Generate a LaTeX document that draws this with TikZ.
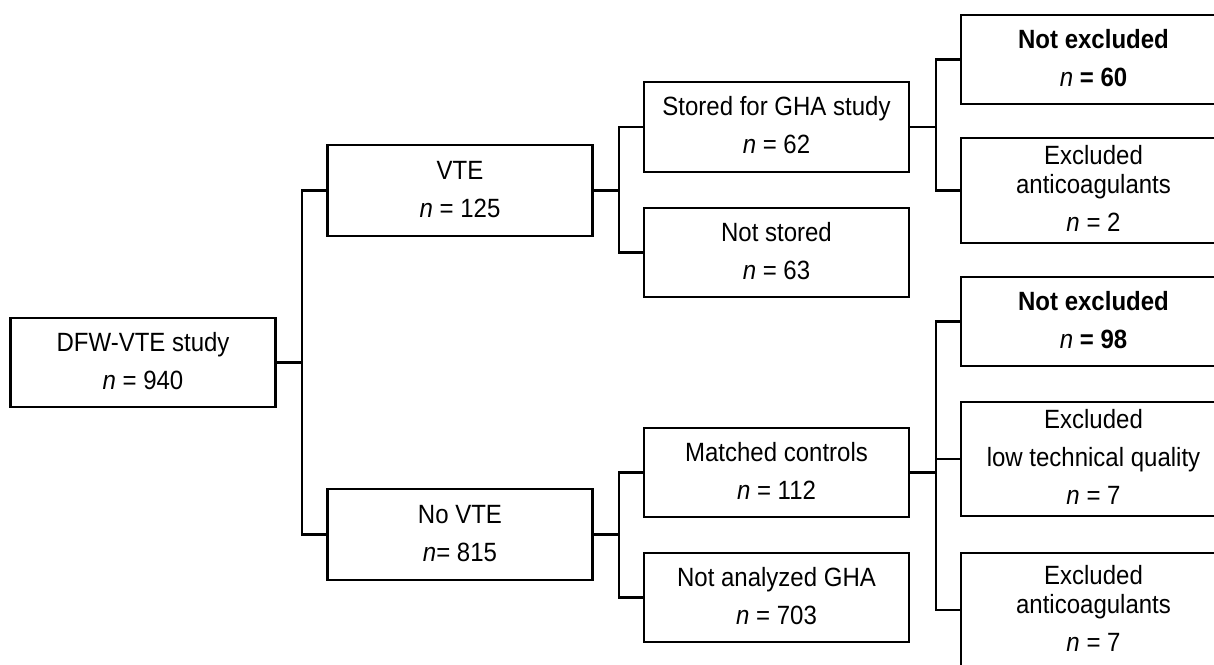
\documentclass[tikz,border=0pt]{standalone}
\usepackage{fontspec}
\setmainfont{Liberation Sans}
\usepackage{graphicx}
\newcommand\boxtext[1]{\scalebox{1}[1.1]{\begin{tabular}{@{}c@{}}#1\end{tabular}}}
\begin{document}
\begin{tikzpicture}[x=1pt,y=-1pt,
  box/.style={draw, line width=2.2pt, minimum width=265pt, inner sep=0pt,
    font=\fontsize{24}{34.5}\selectfont},
  link/.style={line width=2.2pt}]
\useasboundingbox (0,0) rectangle (1214,664);
\clip (0,0) rectangle (1214,664);
\fill[white] (0,0) rectangle (1214,664);
% column 1
\node[box, minimum height=89pt] (dfw) at (143,362.5) {\boxtext{DFW-VTE study\\\textit{n} = 940}};
% column 2
\node[box, minimum height=91pt] (vte) at (460,190.5) {\boxtext{VTE\\\textit{n} = 125}};
\node[box, minimum height=91pt] (novte) at (460,534.5) {\boxtext{No VTE\\\textit{n}= 815}};
% column 3
\node[box, minimum height=90pt] (stored) at (776.5,127) {\boxtext{Stored for GHA study\\\textit{n} = 62}};
\node[box, minimum height=89pt] (notstored) at (776.5,252.5) {\boxtext{Not stored\\\textit{n} = 63}};
\node[box, minimum height=89pt] (matched) at (776.5,472.5) {\boxtext{Matched controls\\\textit{n} = 112}};
\node[box, minimum height=89pt] (notanal) at (776.5,597.5) {\boxtext{Not analyzed GHA\\\textit{n} = 703}};
% column 4
\node[box, minimum height=89pt] (ne60) at (1093.5,59.5) {\boxtext{\textbf{Not excluded}\\\textit{n} \textbf{= 60}}};
\node[box, minimum height=99pt] (exa2) at (1093.5,190.5) {\boxtext{Excluded\\[-8.6pt]anticoagulants\\\textit{n} = 2}};
\node[box, minimum height=89pt] (ne98) at (1093.5,321.5) {\boxtext{\textbf{Not excluded}\\\textit{n} \textbf{= 98}}};
\node[box, minimum height=112pt] (exlow) at (1093.5,459) {\boxtext{Excluded\\low technical quality\\\textit{n} = 7}};
\node[box, minimum height=114pt] (exa7) at (1093.5,610) {\boxtext{Excluded\\[-8pt]anticoagulants\\\textit{n} = 7}};
% connectors
\draw[link] (dfw.east) -- ++(25.5,0) |- (vte.west);
\draw[link] (dfw.east) -- ++(25.5,0) |- (novte.west);
\draw[link] (vte.east) -- ++(25.5,0) |- (stored.west);
\draw[link] (vte.east) -- ++(25.5,0) |- (notstored.west);
\draw[link] (novte.east) -- ++(25.5,0) |- (matched.west);
\draw[link] (novte.east) -- ++(25.5,0) |- (notanal.west);
\draw[link] (stored.east) -- ++(26,0) |- (ne60.west);
\draw[link] (stored.east) -- ++(26,0) |- (exa2.west);
\draw[link] (matched.east) -- ++(26,0) |- (ne98.west);
\draw[link] (matched.east) -- ++(26,0) |- (exlow.west);
\draw[link] (matched.east) -- ++(26,0) |- (exa7.west);
\end{tikzpicture}
\end{document}
